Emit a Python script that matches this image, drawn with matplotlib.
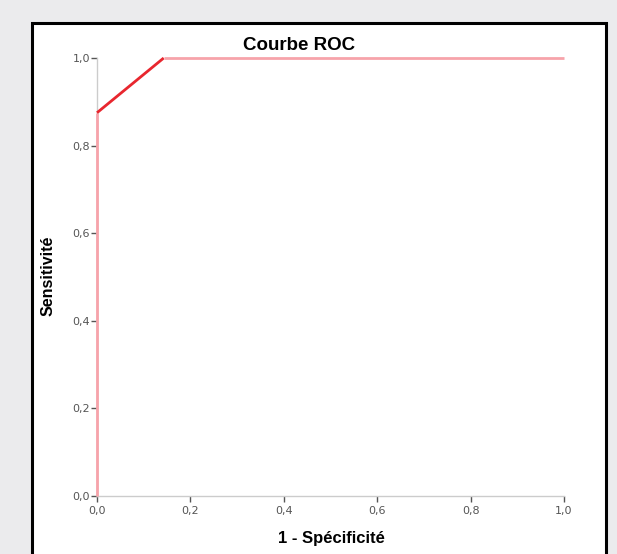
import matplotlib.pyplot as plt
from matplotlib.patches import Rectangle

# Points de la courbe ROC (1 - spécificité, sensibilité)
fpr = [0.0, 0.0, 1 / 7, 1.0]
tpr = [0.0, 0.875, 1.0, 1.0]
seg_colors = ['#f7a3aa', '#e8262e', '#f7a3aa']

ticks = [0.0, 0.2, 0.4, 0.6, 0.8, 1.0]
tick_labels = ['0,0', '0,2', '0,4', '0,6', '0,8', '1,0']

W, H = 617, 554
fig = plt.figure(figsize=(W / 100, H / 100), dpi=100)
fig.patch.set_facecolor('#ebebed')

# Cadre blanc avec bordure noire
fig.patches.append(Rectangle((32 / W, -0.05), 574 / W, (H - 23) / H + 0.05,
                             transform=fig.transFigure, facecolor='white',
                             edgecolor='black', linewidth=2.2, zorder=-5))

ax = fig.add_axes([97 / W, 1 - 496 / H, 467 / W, 438 / H])
ax.set_zorder(5)
ax.set_facecolor('none')

for i in range(len(fpr) - 1):
    ax.plot(fpr[i:i + 2], tpr[i:i + 2], color=seg_colors[i], lw=2,
            solid_capstyle='butt', clip_on=False, zorder=3)

ax.set_xlim(0, 1)
ax.set_ylim(0, 1)
ax.set_xticks(ticks)
ax.set_xticklabels(tick_labels)
ax.set_yticks(ticks)
ax.set_yticklabels(tick_labels)

for side in ['top', 'right']:
    ax.spines[side].set_visible(False)
for side in ['left', 'bottom']:
    ax.spines[side].set_color('#cccccc')
    ax.spines[side].set_linewidth(1)

ax.tick_params(axis='both', length=4, width=1, color='#555555',
               labelsize=8, labelcolor='#555555')
ax.tick_params(axis='x', pad=3)
ax.tick_params(axis='y', pad=1)

fig.text(299 / W, 1 - 45 / H, 'Courbe ROC', ha='center', va='center',
         fontsize=13.5, fontweight='bold', family='Liberation Sans')
fig.text(331 / W, 1 - 538 / H, '1 - Spécificité', ha='center', va='center',
         fontsize=12, fontweight='bold', family='Liberation Sans')
fig.text(48 / W, 1 - 276 / H, 'Sensitivité', ha='center', va='center',
         rotation=90, fontsize=11.5, fontweight='bold', family='Liberation Sans')

fig.savefig('out.png', dpi=100)
